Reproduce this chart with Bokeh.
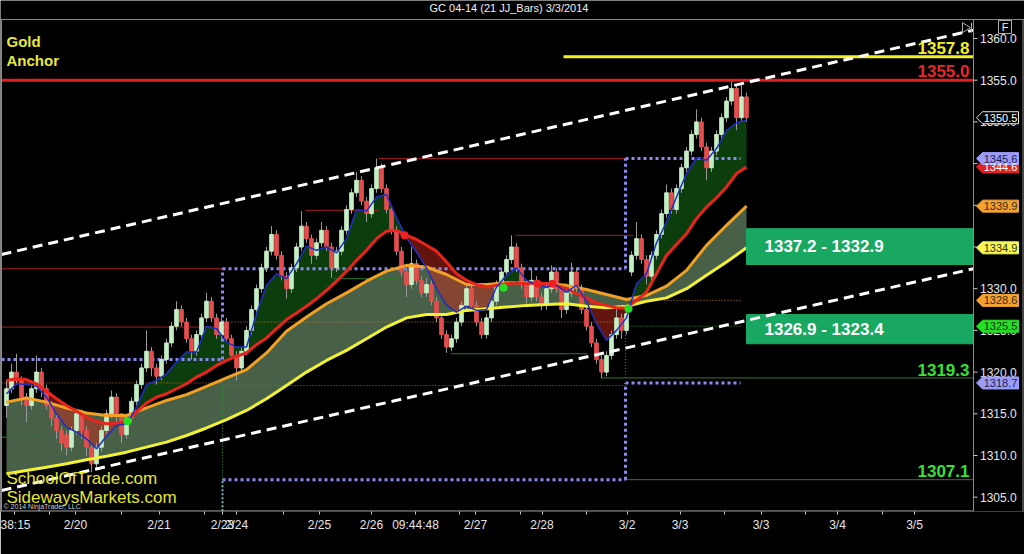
import numpy as np
from bokeh.plotting import figure
from bokeh.models import Range1d, FixedTicker, ColumnDataSource
from bokeh.core.properties import value
from bokeh.embed import file_html
from bokeh.resources import INLINE

FONT = "Liberation Sans"

# ---------------------------------------------------------------- bar data
bar_open = [
    1316.0, 1318.0, 1320.0, 1319.0, 1317.0, 1316.0, 1318.0, 1320.0, 1318.0, 1316.0,
    1314.5, 1313.0, 1312.5, 1311.0, 1313.0, 1315.0, 1313.0, 1311.0, 1309.0, 1311.0,
    1313.0, 1315.0, 1317.0, 1315.0, 1312.5, 1314.5, 1316.5, 1318.5, 1320.5, 1322.5,
    1320.5, 1319.5, 1321.5, 1323.5, 1325.5, 1327.5, 1326.0, 1324.0, 1322.5, 1324.5,
    1326.5, 1328.5, 1326.5, 1324.5, 1326.0, 1324.0, 1322.0, 1320.5, 1322.5, 1325.0,
    1327.5, 1330.0, 1332.5, 1334.5, 1336.5, 1334.0, 1331.5, 1330.0, 1332.5, 1335.0,
    1337.5, 1336.0, 1334.0, 1335.5, 1337.0, 1335.0, 1332.5, 1334.5, 1337.0, 1339.5,
    1341.5, 1343.0, 1340.5, 1339.0, 1342.0, 1344.5, 1342.0, 1339.5, 1337.0, 1334.5,
    1332.0, 1330.5, 1333.0, 1331.0, 1329.5, 1330.5, 1328.5, 1326.5, 1324.5, 1323.0,
    1324.0, 1326.0, 1328.0, 1330.0, 1328.0, 1326.0, 1324.5, 1326.5, 1328.5, 1330.5,
    1332.0, 1333.5, 1335.0, 1332.5, 1330.5, 1329.0, 1331.0, 1329.0, 1328.0, 1330.0,
    1332.0, 1330.0, 1327.5, 1329.5, 1332.0, 1330.0, 1327.5, 1325.5, 1323.5, 1321.5,
    1320.0, 1322.0, 1324.5, 1326.5, 1325.0, 1332.0, 1334.0, 1336.0, 1333.5, 1331.5,
    1334.0, 1336.5, 1339.0, 1341.5, 1339.5, 1342.0, 1344.5, 1346.5, 1348.5, 1350.0,
    1347.0, 1344.5, 1346.5, 1348.5, 1350.5, 1352.5, 1354.0, 1350.5, 1353.0]
bar_high = [
    1319.0, 1321.0, 1322.2, 1319.5, 1317.5, 1318.5, 1322.0, 1320.5, 1318.5, 1316.5,
    1315.0, 1313.5, 1313.0, 1313.5, 1315.5, 1315.5, 1313.5, 1311.5, 1311.5, 1313.5,
    1315.5, 1317.8, 1317.5, 1315.0, 1315.0, 1317.0, 1319.0, 1321.0, 1325.0, 1323.0,
    1321.0, 1322.0, 1324.0, 1326.0, 1328.5, 1328.0, 1326.5, 1324.5, 1325.0, 1327.0,
    1329.5, 1329.0, 1327.0, 1326.5, 1326.5, 1324.5, 1322.5, 1323.0, 1325.5, 1328.0,
    1330.5, 1333.0, 1335.0, 1337.5, 1337.0, 1334.5, 1332.0, 1333.0, 1335.5, 1339.3,
    1338.0, 1336.5, 1336.0, 1338.0, 1337.5, 1335.5, 1335.0, 1337.5, 1340.0, 1342.0,
    1344.0, 1343.5, 1341.0, 1342.5, 1345.6, 1345.0, 1342.5, 1340.0, 1337.5, 1335.0,
    1332.5, 1335.0, 1333.5, 1331.5, 1331.3, 1331.0, 1329.0, 1327.0, 1325.0, 1324.5,
    1326.5, 1328.5, 1330.6, 1330.5, 1328.5, 1326.5, 1327.0, 1329.0, 1331.0, 1332.5,
    1334.0, 1336.4, 1335.5, 1333.0, 1331.0, 1332.5, 1331.5, 1329.5, 1330.5, 1332.8,
    1332.5, 1330.5, 1330.0, 1333.1, 1332.5, 1330.5, 1328.0, 1326.0, 1324.0, 1322.0,
    1322.5, 1325.0, 1327.7, 1327.0, 1327.5, 1334.5, 1338.0, 1336.5, 1334.0, 1334.5,
    1337.0, 1339.5, 1342.5, 1342.0, 1342.5, 1345.0, 1347.0, 1349.0, 1351.5, 1350.5,
    1347.5, 1347.0, 1349.0, 1351.0, 1353.0, 1355.1, 1354.5, 1354.5, 1353.5]
bar_low = [
    1314.5, 1317.5, 1318.5, 1316.0, 1314.0, 1315.5, 1317.5, 1317.0, 1315.5, 1313.5,
    1312.0, 1310.5, 1310.0, 1310.5, 1312.5, 1312.0, 1310.0, 1308.0, 1308.5, 1310.5,
    1312.5, 1314.5, 1314.0, 1311.5, 1312.0, 1314.0, 1316.0, 1318.0, 1320.0, 1319.5,
    1318.5, 1319.0, 1321.0, 1323.0, 1325.0, 1325.5, 1323.5, 1321.5, 1322.0, 1324.0,
    1326.0, 1326.0, 1324.0, 1324.0, 1323.5, 1321.5, 1319.0, 1320.0, 1322.0, 1324.5,
    1327.0, 1329.5, 1332.0, 1334.0, 1333.5, 1331.0, 1328.8, 1329.5, 1332.0, 1334.5,
    1335.5, 1333.0, 1333.5, 1335.0, 1334.5, 1331.3, 1332.0, 1334.0, 1336.5, 1339.0,
    1341.0, 1340.0, 1338.0, 1338.5, 1341.5, 1341.5, 1339.0, 1336.5, 1334.0, 1331.5,
    1329.0, 1330.0, 1330.5, 1329.0, 1329.0, 1328.0, 1326.0, 1324.0, 1322.3, 1322.5,
    1323.5, 1325.5, 1327.5, 1327.5, 1325.5, 1324.0, 1324.0, 1326.0, 1328.0, 1330.0,
    1331.5, 1333.0, 1332.0, 1330.0, 1328.2, 1328.5, 1328.5, 1327.4, 1327.5, 1329.5,
    1329.5, 1326.5, 1327.0, 1329.0, 1329.5, 1327.0, 1325.0, 1323.0, 1321.0, 1319.3,
    1319.5, 1321.5, 1324.0, 1324.0, 1324.5, 1331.5, 1333.5, 1333.0, 1330.5, 1331.0,
    1333.5, 1336.0, 1338.5, 1339.0, 1339.0, 1341.5, 1344.0, 1346.0, 1348.0, 1346.5,
    1343.0, 1344.0, 1346.0, 1348.0, 1350.0, 1352.0, 1349.0, 1350.0, 1350.0]
bar_close = [
    1318.0, 1320.0, 1319.0, 1317.0, 1316.0, 1318.0, 1320.0, 1318.0, 1316.0, 1314.5,
    1313.0, 1311.5, 1311.0, 1313.0, 1315.0, 1313.0, 1311.0, 1309.0, 1311.0, 1313.0,
    1315.0, 1317.0, 1315.0, 1312.5, 1314.5, 1316.5, 1318.5, 1320.5, 1322.5, 1320.5,
    1319.5, 1321.5, 1323.5, 1325.5, 1327.5, 1326.0, 1324.0, 1322.5, 1324.5, 1326.5,
    1328.5, 1326.5, 1324.5, 1326.0, 1324.0, 1322.0, 1320.5, 1322.5, 1325.0, 1327.5,
    1330.0, 1332.5, 1334.5, 1336.5, 1334.0, 1331.5, 1330.0, 1332.5, 1335.0, 1337.5,
    1336.0, 1334.0, 1335.5, 1337.0, 1335.0, 1332.5, 1334.5, 1337.0, 1339.5, 1341.5,
    1343.0, 1340.5, 1339.0, 1342.0, 1344.5, 1342.0, 1339.5, 1337.0, 1334.5, 1332.0,
    1330.5, 1333.0, 1331.0, 1329.5, 1330.5, 1328.5, 1326.5, 1324.5, 1323.0, 1324.0,
    1326.0, 1328.0, 1330.0, 1328.0, 1326.0, 1324.5, 1326.5, 1328.5, 1330.5, 1332.0,
    1333.5, 1335.0, 1332.5, 1330.5, 1329.0, 1331.0, 1329.0, 1328.0, 1330.0, 1332.0,
    1330.0, 1327.5, 1329.5, 1332.0, 1330.0, 1327.5, 1325.5, 1323.5, 1321.5, 1320.0,
    1322.0, 1324.5, 1326.5, 1325.0, 1327.0, 1334.0, 1336.0, 1333.5, 1331.5, 1334.0,
    1336.5, 1339.0, 1341.5, 1339.5, 1342.0, 1344.5, 1346.5, 1348.5, 1350.0, 1347.0,
    1344.5, 1346.5, 1348.5, 1350.5, 1352.5, 1354.0, 1350.5, 1353.0, 1350.5]

# ------------------------------------------------------- moving averages
ma_fast_x = list(range(0, 149, 2))
ma_blue = [
    1317.4, 1318.6, 1318.5, 1318.3, 1317.0, 1315.0, 1313.4, 1312.8, 1312.0, 1310.8,
    1312.3, 1313.6, 1313.8, 1315.8, 1318.5, 1319.0, 1319.8, 1321.2, 1322.4, 1322.4,
    1325.5, 1325.2, 1323.6, 1323.0, 1323.0, 1327.0, 1330.4, 1331.8, 1331.2, 1333.0,
    1335.1, 1334.6, 1335.0, 1334.3, 1336.0, 1339.5, 1339.3, 1341.0, 1341.3, 1338.5,
    1336.1, 1334.4, 1332.5, 1330.0, 1328.0, 1327.2, 1327.9, 1327.4, 1327.5, 1330.2,
    1331.6, 1332.5, 1331.0, 1330.5, 1330.2, 1330.4, 1329.6, 1330.4, 1328.5, 1325.8,
    1323.8, 1325.0, 1326.5, 1330.6, 1331.8, 1335.5, 1338.0, 1341.0, 1343.8, 1345.7,
    1345.4, 1346.8, 1349.0, 1349.9, 1350.2]
ma_red = [
    1319.0, 1319.2, 1319.1, 1318.6, 1317.7, 1316.8, 1316.0, 1315.3, 1314.6, 1314.1,
    1313.8, 1313.9, 1314.0, 1315.2, 1316.3, 1317.0, 1317.4, 1318.0, 1318.6, 1319.4,
    1320.0, 1320.8, 1321.4, 1321.9, 1322.3, 1323.3, 1324.1, 1325.2, 1326.3, 1327.1,
    1327.9, 1328.8, 1329.8, 1330.9, 1332.1, 1333.4, 1334.6, 1336.0, 1336.9, 1337.0,
    1336.4, 1335.9, 1335.2, 1334.5, 1333.2, 1331.8, 1331.0, 1330.5, 1330.2, 1330.4,
    1330.6, 1330.7, 1330.6, 1330.7, 1330.6, 1330.4, 1330.0, 1329.4, 1328.9, 1328.3,
    1328.0, 1327.7, 1327.7, 1328.6, 1329.6, 1331.8, 1334.0, 1335.3, 1336.6, 1338.4,
    1339.8, 1340.9, 1342.2, 1343.8, 1344.6]
ma_slow_x = list(range(0, 149, 4))
ma_orange = [
    1316.4, 1316.9, 1316.4, 1315.7, 1315.1, 1314.8, 1314.8, 1315.7, 1316.6, 1317.3,
    1318.3, 1319.3, 1320.3, 1322.3, 1324.9, 1326.6, 1328.2, 1329.5, 1330.9, 1332.1,
    1332.8, 1332.6, 1331.7, 1330.5, 1330.5, 1330.7, 1330.7, 1330.6, 1330.4, 1329.9,
    1329.3, 1328.7, 1329.2, 1330.3, 1332.2, 1335.2, 1337.6, 1339.9]
ma_yellow = [
    1307.8, 1308.2, 1308.6, 1309.0, 1309.5, 1309.9, 1310.4, 1311.0, 1311.6, 1312.4,
    1313.3, 1314.3, 1315.4, 1316.8, 1318.4, 1320.0, 1321.4, 1322.6, 1324.0, 1325.4,
    1326.5, 1326.9, 1326.9, 1327.4, 1327.6, 1327.8, 1328.0, 1328.1, 1328.2, 1327.9,
    1327.7, 1327.9, 1328.5, 1328.9, 1330.0, 1331.6, 1333.2, 1334.9]

# crossover markers of the fast line through the red average
cross_x = [24.2, 99.4, 124.4, 79.6, 106.2, 109.2]
cross_y = [1314.1, 1330.1, 1327.6, 1336.4, 1330.6, 1330.6]
cross_dir = ["up", "up", "up", "down", "down", "down"]

# ---------------------------------------------------------------- levels
anchor_level = 1355.0
target_level = 1357.8
target_from = 111.4
zones = [(1337.2, 1332.9), (1326.9, 1323.4)]
zone_from = 148.0
channel_x = [-1.0, 193.4]
channel_upper = [1334.1, 1361.0]
channel_lower = [1305.8, 1332.4]

# (x_start, x_end, y_start, y_end)
pivots_red = [(-1.0, 43.2, 1332.4, 1332.4), (-1.0, 43.2, 1325.4, 1325.4),
              (59.8, 74.4, 1339.4, 1339.4), (74.4, 123.8, 1345.6, 1345.6),
              (101.8, 125.4, 1336.4, 1336.4)]
pivots_blue = [(-1.0, 43.2, 1321.5, 1321.5), (43.2, 43.2, 1321.5, 1332.4),
               (43.2, 123.8, 1332.4, 1332.4), (123.8, 123.8, 1332.4, 1345.6),
               (123.8, 146.8, 1345.6, 1345.6), (43.2, 123.8, 1307.1, 1307.1),
               (123.8, 123.8, 1307.1, 1318.7), (123.8, 146.8, 1318.7, 1318.7)]
pivots_teal = [(43.2, 43.2, 1303.3, 1307.1)]
pivots_green_dot = [(43.2, 43.2, 1307.1, 1318.4), (43.2, 123.8, 1318.4, 1318.4),
                    (123.8, 123.8, 1319.3, 1325.5), (123.8, 146.8, 1325.5, 1325.5)]
pivots_green = [(-1.0, 7.4, 1312.2, 1312.2), (65.4, 78.2, 1331.2, 1331.2),
                (88.8, 116.2, 1322.2, 1322.2), (118.8, 193.4, 1319.3, 1319.3),
                (123.8, 193.4, 1307.1, 1307.1)]
pivots_orange = [(-1.0, 43.2, 1318.7, 1318.7), (43.2, 123.8, 1326.0, 1326.0),
                 (123.8, 146.8, 1328.6, 1328.6)]

# price tags on the right-hand scale: text, price, fill, ink, edge
tags = [("1350.5", 1350.5, "#000000", "#ffffff", "#e8e8e8"),
        ("1344.6", 1344.6, "#e02424", "#ffffff", "#e02424"),
        ("1345.6", 1345.6, "#9c9cf6", "#1c1c5c", "#9c9cf6"),
        ("1339.9", 1339.9, "#f0a232", "#3a2a10", "#f0a232"),
        ("1334.9", 1334.9, "#f6f654", "#303010", "#f6f654"),
        ("1328.6", 1328.6, "#f0a232", "#3a2a10", "#f0a232"),
        ("1325.5", 1325.5, "#24e024", "#103010", "#24e024"),
        ("1318.7", 1318.7, "#9c9cf6", "#1c1c5c", "#9c9cf6")]

# time axis
tick_pos = [1.6, 13.8, 30.5, 43.2, 46.0, 62.6, 73.0, 81.8, 93.8, 107.1,
            124.1, 134.7, 150.9, 166.2, 181.6]
tick_text = ["38:15", "2/20", "2/21", "2/23", "2/24", "2/25", "2/26", "09:44:48",
             "2/27", "2/28", "3/2", "3/3", "3/3", "3/4", "3/5"]
minor_pos = [8.6, 23.0, 39.6, 55.4, 90.6, 102.8, 116.0, 143.6, 159.8, 175.2]
price_ticks = [1305, 1310, 1315, 1320, 1325, 1330, 1335, 1340, 1345, 1350, 1355, 1360]

# chart area edges (bar units / price) and the price-scale column
X0, X1 = -1.0, 193.4
Y_BOT, Y_TOP = 1303.3, 1362.28
SCALE_RIGHT = 203.3

# ---------------------------------------------------------------- figure
p = figure(width=1024, height=554,
           x_range=Range1d(-1.2, 203.6), y_range=Range1d(1303.285, 1364.556),
           output_backend="svg", toolbar_location=None, y_axis_location=None,
           min_border_left=0, min_border_right=0, min_border_top=0,
           min_border_bottom=43, background_fill_color="black",
           border_fill_color="black", outline_line_color=None)
p.xgrid.visible = False
p.ygrid.visible = False

bx = p.xaxis[0]
bx.ticker = FixedTicker(ticks=tick_pos, minor_ticks=minor_pos)
bx.major_label_overrides = dict(zip(tick_pos, tick_text))
bx.axis_line_color = None
bx.major_tick_line_color = "#c8c8c8"
bx.minor_tick_line_color = "#c8c8c8"
bx.major_tick_in = 0
bx.major_tick_out = 3
bx.minor_tick_in = 0
bx.minor_tick_out = 3
bx.major_label_text_color = "#e6e6e6"
bx.major_label_text_font = FONT
bx.major_label_text_font_size = "12px"
bx.major_label_standoff = 3

# ---------------------------------------------------------------- ribbons
p.varea(x=ma_slow_x, y1=ma_yellow, y2=ma_orange, fill_color="#476047")
blue_arr = np.array(ma_blue)
red_arr = np.array(ma_red)
p.varea(x=ma_fast_x, y1=red_arr, y2=np.maximum(blue_arr, red_arr),
        fill_color="#157015", fill_alpha=0.55)
p.varea(x=ma_fast_x, y1=np.minimum(blue_arr, red_arr), y2=red_arr,
        fill_color="#c42a1c", fill_alpha=0.5)


def draw_segments(items, **kw):
    x0, x1, y0, y1 = (list(v) for v in zip(*items))
    p.segment(x0=x0, y0=y0, x1=x1, y1=y1, **kw)


draw_segments(pivots_red, line_color="#a01e1e", line_width=1)
draw_segments(pivots_green, line_color="#2e7a2e", line_width=1)
draw_segments(pivots_orange, line_color="#c07a22", line_width=1, line_dash="1 2")
draw_segments(pivots_green_dot, line_color="#2ea02e", line_width=1, line_dash="1 2")
draw_segments(pivots_teal, line_color="#6cc0c0", line_width=2, line_dash="2 2")
draw_segments(pivots_blue, line_color="#8a8af2", line_width=3, line_dash="3 3")

# ---------------------------------------------------------------- candles
o = np.array(bar_open)
c = np.array(bar_close)
up = c >= o
candles = ColumnDataSource(dict(
    x=list(range(len(bar_close))), high=bar_high, low=bar_low,
    top=np.maximum(o, c), bottom=np.minimum(o, c),
    color=np.where(up, "#c4eec4", "#e44e4e")))
p.segment(x0="x", y0="low", x1="x", y1="high", line_color="#9a9a9a",
          line_width=1, source=candles)
p.vbar(x="x", width=0.72, top="top", bottom="bottom", fill_color="color",
       line_color="color", source=candles)

# ---------------------------------------------------------------- averages
p.line(ma_slow_x, ma_yellow, line_color="#f2f232", line_width=3)
p.line(ma_slow_x, ma_orange, line_color="#f0a024", line_width=3)
p.line(ma_fast_x, ma_red, line_color="#e8241c", line_width=3)
p.line(ma_fast_x, ma_blue, line_color="#1f2ec8", line_width=1.5)
p.scatter(cross_x, cross_y, size=8, line_color=None,
          fill_color=["#22e022" if d == "up" else "#f02020" for d in cross_dir])

# ---------------------------------------------------------------- levels
p.segment(x0=[X0], y0=[anchor_level], x1=[X1], y1=[anchor_level],
          line_color="#e02020", line_width=3)
p.segment(x0=[target_from], y0=[target_level], x1=[X1], y1=[target_level],
          line_color="#f2f220", line_width=3)

for hi, lo in zones:
    p.quad(left=zone_from, right=X1, top=hi, bottom=lo,
           fill_color="#18a862", line_color="#18a862")
    p.text(x=[zone_from + 3.6], y=[(hi + lo) / 2], text=[f"{hi:.1f} - {lo:.1f}"],
           text_font=value(FONT), text_font_style="bold", text_font_size="17px",
           text_color="#ffffff", text_align="left", text_baseline="middle")

p.line(channel_x, channel_upper, line_color="#ffffff", line_width=3, line_dash="10 6")
p.line(channel_x, channel_lower, line_color="#ffffff", line_width=3, line_dash="10 6")

level_text = ["1357.8", "1355.0", "1319.3", "1307.1"]
level_y = [1358.9, 1356.1, 1320.3, 1308.1]
level_color = ["#f0f028", "#e82828", "#38e038", "#38e038"]
p.text(x=[192.6] * 4, y=level_y, text=level_text, text_color=level_color,
       text_font=value(FONT), text_font_style="bold", text_font_size="17px",
       text_align="right", text_baseline="middle")

# ---------------------------------------------------------------- frame + price scale
GRAY = "#8c8c8c"
p.segment(x0=[-1.2, X0, X1, X0, SCALE_RIGHT],
          y0=[Y_TOP, Y_BOT, Y_BOT, Y_BOT + 0.06, Y_BOT],
          x1=[203.6, X0, X1, X1, SCALE_RIGHT],
          y1=[Y_TOP, Y_TOP, Y_TOP, Y_BOT + 0.06, Y_TOP],
          line_color=GRAY, line_width=1)
p.segment(x0=[X1] * len(price_ticks), y0=price_ticks,
          x1=[X1 + 0.8] * len(price_ticks), y1=price_ticks,
          line_color="#c8c8c8", line_width=1)
p.text(x=[X1 + 1.3] * len(price_ticks), y=price_ticks,
       text=[f"{t:.1f}" for t in price_ticks], text_font=value(FONT),
       text_font_size="12px", text_color="#e6e6e6", text_align="left",
       text_baseline="middle")

half = 0.72
p.patches(xs=[[194.0, 195.2, 202.4, 202.4, 195.2] for _ in tags],
          ys=[[t[1], t[1] + half, t[1] + half, t[1] - half, t[1] - half] for t in tags],
          fill_color=[t[2] for t in tags], line_color=[t[4] for t in tags],
          line_width=1)
p.text(x=[198.8] * len(tags), y=[t[1] for t in tags], text=[t[0] for t in tags],
       text_color=[t[3] for t in tags], text_font=value(FONT),
       text_font_size="11px", text_align="center", text_baseline="middle")

# corner buttons
p.patch(x=[191.2, 191.2, 192.8], y=[1361.9, 1360.7, 1361.3],
        fill_color=None, line_color="#b0b0b0", line_width=1)
p.segment(x0=[193.0], y0=[1361.9], x1=[193.0], y1=[1360.7],
          line_color="#b0b0b0", line_width=1)
p.rect(x=[199.7], y=[1361.38], width=2.6, height=1.56, fill_color="#000000",
       line_color="#b0b0b0", line_width=1)
p.text(x=[199.7], y=[1361.38], text=["F"], text_font=value(FONT),
       text_font_size="11px", text_color="#f0f0f0", text_align="center",
       text_baseline="middle")

# ---------------------------------------------------------------- captions
p.text(x=[100.8], y=[1363.6], text=["GC 04-14 (21 JJ_Bars)  3/3/2014"],
       text_font=value(FONT), text_font_size="11px", text_color="#f0f0f0",
       text_align="center", text_baseline="middle")
p.text(x=[0.0, 0.0], y=[1359.6, 1357.4], text=["Gold", "Anchor"],
       text_font=value(FONT), text_font_style="bold", text_font_size="15px",
       text_color="#e8e83a", text_align="left", text_baseline="middle")
p.text(x=[0.0, 0.0], y=[1307.2, 1305.0], text=["SchoolOfTrade.com", "SidewaysMarkets.com"],
       text_font=value(FONT), text_font_size="17px",
       text_color="#e6e630", text_align="left", text_baseline="middle")
p.text(x=[-0.6], y=[1303.9], text=["\u00a9 2014 NinjaTrader, LLC"],
       text_font=value(FONT), text_font_size="7px", text_color="#d0d0d0",
       text_align="left", text_baseline="middle")

open("out.html", "w").write(file_html(p, INLINE))
